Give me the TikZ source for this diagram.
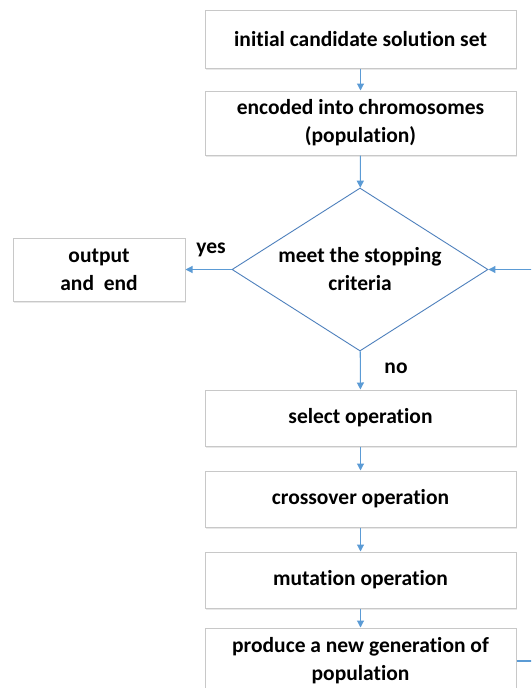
\documentclass[tikz,border=0pt]{standalone}
\usepackage{fontspec}
\setmainfont{Carlito}[Ligatures={NoCommon}]
\usetikzlibrary{arrows.meta,shapes.geometric,shadows}
\definecolor{boxline}{HTML}{C8C8C8}
\definecolor{flowblue}{HTML}{5B9BD5}
\definecolor{diamline}{HTML}{4F81BD}
\tikzset{
  x=1pt, y=-1pt,
  every node/.style={font=\fontsize{21.5}{28}\selectfont\bfseries, align=center},
  stepbox/.style={rectangle, draw=boxline, line width=1pt, fill=white,
    minimum width=311pt, inner sep=0pt,
    drop shadow={shadow xshift=1.2pt, shadow yshift=-1.5pt, opacity=0.18, fill=gray}},
  decision/.style={diamond, aspect=1.57, draw=diamline, line width=0.9pt, fill=white,
    minimum width=256pt, minimum height=163pt, inner sep=0pt},
  flow/.style={draw=flowblue, line width=1.1pt, -{Triangle[length=7pt,width=7pt]}},
  lbl/.style={inner sep=0pt}
}
\begin{document}
\begin{tikzpicture}
\useasboundingbox (0,0) rectangle (531,688);
\clip (0,0) rectangle (531,688);
\fill[white] (0,0) rectangle (531,688);

\node[stepbox, minimum height=58pt] (init) at (360.5,39) {initial candidate solution set};
\node[stepbox, minimum height=64pt] (enc) at (360.5,123) {encoded into chromosomes\\(population)};
\node[decision] (stop) at (360,269.5) {meet the stopping\\criteria};
\node[stepbox, minimum width=172pt, minimum height=63pt] (out) at (99,269.5) {output\\and\ \ end};
\node[stepbox, minimum height=56pt] (sel) at (360.5,418) {select operation};
\node[stepbox, minimum height=56pt] (cross) at (360.5,499) {crossover operation};
\node[stepbox, minimum height=56pt] (mut) at (360.5,580) {mutation operation};
\node[stepbox, minimum height=66pt] (prod) at (360.5,661) {produce a new generation of\\population};

\node[lbl] (yes) at (211,250) {yes};
\node[lbl] (no) at (396,368) {no};

\draw[flow] (init) -- (enc);
\draw[flow] (enc) -- (stop);
\draw[flow] (stop) -- (out);
\draw[flow] (stop) -- (sel);
\draw[flow] (sel) -- (cross);
\draw[flow] (cross) -- (mut);
\draw[flow] (mut) -- (prod);
\coordinate (loop) at (545,661);
\draw[flow] (prod.east) -- (loop) |- (stop.east);
\end{tikzpicture}
\end{document}
